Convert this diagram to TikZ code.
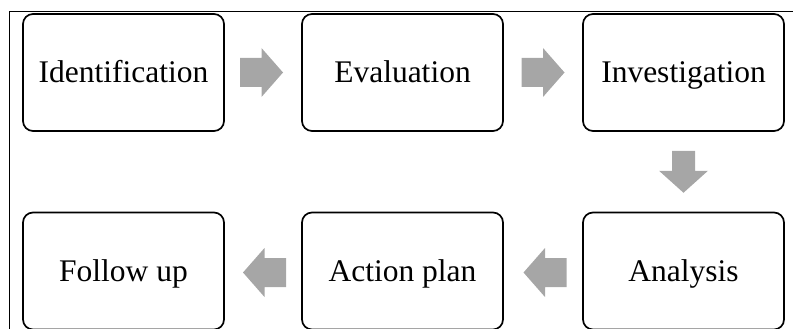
\documentclass[tikz,border=0pt]{standalone}
\usepackage{fontspec}
\setmainfont{Liberation Serif}
\usetikzlibrary{calc}
\definecolor{arrowgrey}{HTML}{A6A6A6}
\tikzset{
  stagebox/.style={draw=black, line width=1.7pt, rounded corners=10pt,
    minimum width=201pt, minimum height=117pt, inner sep=0pt,
    font=\fontsize{31.5}{36}\selectfont, text height=21pt, text depth=0pt},
  frameline/.style={draw=black, line width=1pt},
  pics/hblock/.style={code={
    \fill[arrowgrey] (-21.5,-14.5) -- (0,-14.5) -- (0,-24.5) -- (21.5,0)
      -- (0,24.5) -- (0,14.5) -- (-21.5,14.5) -- cycle;}},
  pics/vblock/.style={code={
    \fill[arrowgrey] (-11.5,-21) -- (11.5,-21) -- (11.5,-1) -- (24.5,-1)
      -- (0,21) -- (-24.5,-1) -- (-11.5,-1) -- cycle;}}
}
\begin{document}
\begin{tikzpicture}[x=1pt, y=-1pt]
  \useasboundingbox (0,0) rectangle (793,329);
  % outer frame (left and top edges)
  \draw[frameline] (9,329) -- (9,12) -- (793,12);

  % stages
  \node[stagebox] (ident) at (123.5,72.5) {Identification};
  \node[stagebox] (eval)  at (402.5,72.5) {Evaluation};
  \node[stagebox] (inv)   at (683.5,72.5) {Investigation};
  \node[stagebox] (anal)  at (683.5,271)  {Analysis};
  \node[stagebox] (act)   at (402.5,271)  {Action plan};
  \node[stagebox] (follow) at (123.5,271) {Follow up};

  % block arrows between stages
  \coordinate (a1) at ($(ident.east)!0.5!(eval.west)+(-1.5,0)$);
  \coordinate (a2) at ($(eval.east)!0.5!(inv.west)$);
  \coordinate (a3) at ($(inv.south)!0.5!(anal.north)$);
  \coordinate (a4) at ($(act.east)!0.5!(anal.west)+(2,1.5)$);
  \coordinate (a5) at ($(follow.east)!0.5!(act.west)+(1.5,1.5)$);
  \pic at (a1) {hblock};
  \pic at (a2) {hblock};
  \pic at (a3) {vblock};
  \pic[rotate=180] at (a4) {hblock};
  \pic[rotate=180] at (a5) {hblock};
\end{tikzpicture}
\end{document}
